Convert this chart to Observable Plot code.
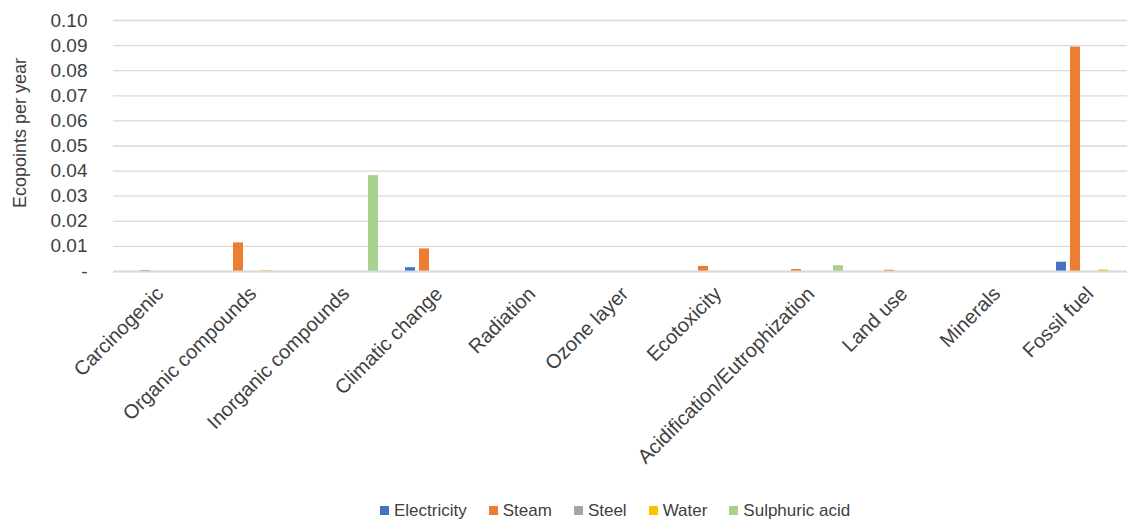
<!DOCTYPE html>
<html>
<head>
<meta charset="utf-8">
<script src="https://cdn.jsdelivr.net/npm/d3@7"></script>
<script src="https://cdn.jsdelivr.net/npm/@observablehq/plot@0.6"></script>
<style>
  body { margin: 0; background: #fff; font-family: "Liberation Sans", Arial, sans-serif; }
  #legend { display: flex; align-items: center; height: 27px; padding-top: 4px; margin-left: 380px; font-size: 17px; color: #404040; }
  #legend .item { display: flex; align-items: center; margin-right: 22px; }
  #legend .swatch { width: 9px; height: 9px; margin-right: 5px; }
  g[aria-label^="fx-axis"] text { font-size: 20px; }
</style>
</head>
<body>
<div id="chart"></div>
<div id="legend"></div>
<script>
// Impact categories along the x axis
const categories = [
  "Carcinogenic", "Organic compounds", "Inorganic compounds", "Climatic change",
  "Radiation", "Ozone layer", "Ecotoxicity", "Acidification/Eutrophization",
  "Land use", "Minerals", "Fossil fuel"
];

// Series and their colours
const seriesNames = ["Electricity", "Steam", "Steel", "Water", "Sulphuric acid"];
const seriesColors = ["#4472C4", "#ED7D31", "#A5A5A5", "#FFC000", "#A9D18E"];

// Ecopoints per year, one value per category
const electricity   = [0, 0, 0, 0.0015, 0, 0, 0, 0, 0, 0, 0.0037];
const steam         = [0.0004, 0.0114, 0, 0.0090, 0, 0, 0.0020, 0.0008, 0.0005, 0, 0.0894];
const steel         = [0, 0, 0, 0, 0, 0, 0, 0, 0, 0, 0];
const water         = [0, 0.0004, 0, 0, 0, 0, 0, 0, 0, 0, 0.0006];
const sulphuricAcid = [0, 0, 0.0382, 0, 0, 0, 0, 0.0023, 0, 0, 0];

// Y axis ticks
const yTicks = [0, 0.01, 0.02, 0.03, 0.04, 0.05, 0.06, 0.07, 0.08, 0.09, 0.10];
const yTitle = "Ecopoints per year";

const seriesValues = [electricity, steam, steel, water, sulphuricAcid];
const rows = [];
categories.forEach((category, i) => {
  seriesNames.forEach((series, j) => {
    rows.push({category, series, value: seriesValues[j][i]});
  });
});

const chart = Plot.plot({
  width: 1127,
  height: 493,
  marginTop: 20,
  marginBottom: 222,
  marginLeft: 109,
  marginRight: -13,
  style: { fontSize: "19px", fontFamily: "'Liberation Sans', Arial, sans-serif", color: "#404040", background: "#fff" },
  fx: {
    domain: categories,
    padding: 0,
    axis: "bottom",
    label: null,
    tickSize: 0,
    tickRotate: -45,
    tickPadding: 19
  },
  x: { domain: seriesNames, paddingInner: 0.27, paddingOuter: 0.75, axis: null },
  y: {
    domain: [0, 0.1],
    ticks: yTicks,
    tickFormat: d => d === 0 ? "-" : d.toFixed(2),
    tickSize: 0,
    tickPadding: 26,
    label: yTitle,
    labelArrow: false,
    labelAnchor: "center",
    labelOffset: 100
  },
  color: { domain: seriesNames, range: seriesColors },
  marks: [
    Plot.ruleY(yTicks, { stroke: "#d9d9d9", strokeWidth: 1.3 }),
    Plot.barY(rows, { fx: "category", x: "series", y: "value", fill: "series" }),
    Plot.ruleY([0], { stroke: "#d9d9d9", strokeWidth: 2 })
  ]
});
document.getElementById("chart").appendChild(chart);

// Axis title: plain text, a little smaller, nudged up along its baseline
d3.select(chart).selectAll("text").each(function () {
  const t = d3.select(this);
  if (t.text().includes(yTitle)) {
    t.text(yTitle).style("font-size", "18px").attr("dx", 13);
  }
});

// Legend below the chart
const legend = document.getElementById("legend");
seriesNames.forEach((name, i) => {
  const item = document.createElement("div");
  item.className = "item";
  const sw = document.createElement("span");
  sw.className = "swatch";
  sw.style.background = seriesColors[i];
  const label = document.createElement("span");
  label.textContent = name;
  item.appendChild(sw);
  item.appendChild(label);
  legend.appendChild(item);
});
</script>
</body>
</html>
